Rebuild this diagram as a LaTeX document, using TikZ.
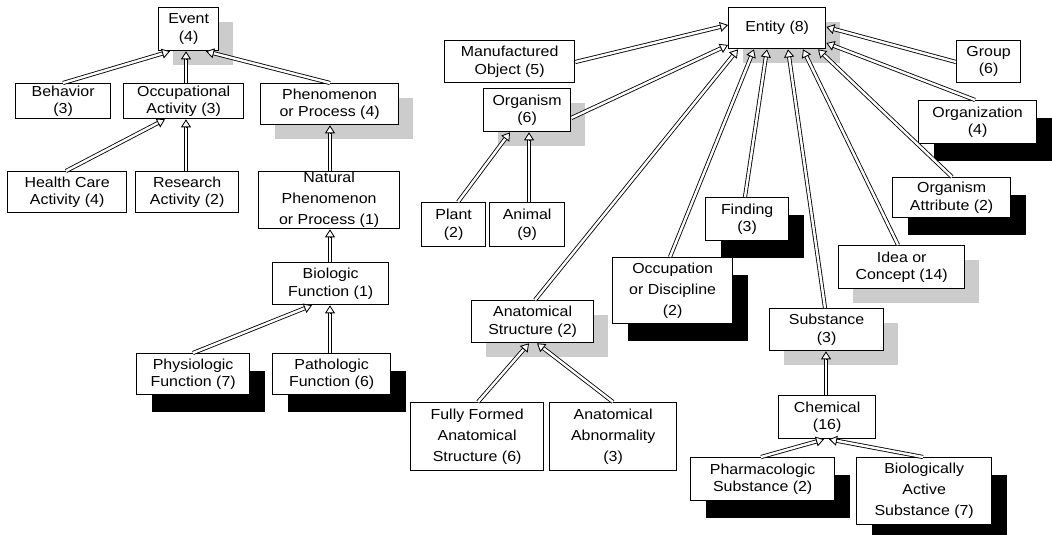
\documentclass[tikz,border=0pt]{standalone}
\usepackage{fontspec}
\setmainfont{Liberation Sans}[FakeStretch=1.1]
\usetikzlibrary{calc,shadows,arrows.meta}

% is-a link: hollow double shaft with an open triangular head
\newcommand\isa[2]{%
  \coordinate (isaS) at (#1);
  \coordinate (isaT) at (#2);
  \draw[isashaft] (isaS) -- ($(isaT)!7pt!(isaS)$);
  \draw[isahead] ($(isaT)!8pt!(isaS)$) -- (isaT);
}

\begin{document}
\begin{tikzpicture}[x=1pt,y=-1pt,
  box/.style={draw, line width=1.3pt, fill=white, inner sep=0pt, align=center,
    anchor=north west, font=\fontsize{14.5}{17.5}\selectfont},
  tall/.style={font=\fontsize{14.5}{21}\selectfont},
  bshadow/.style={general shadow={fill=black, shadow xshift=15pt, shadow yshift=-17pt}},
  gshadow/.style={general shadow={fill=gray!40, shadow xshift=14pt, shadow yshift=-14pt}},
  isashaft/.style={double, double distance=2.4pt, line width=0.85pt},
  isahead/.style={line width=0.85pt, -{Triangle[length=8pt,width=10pt,fill=white]}}]

\fill[white] (0,0) rectangle (1052,535);
\useasboundingbox (0,0) rectangle (1052,535);

% ---- Event hierarchy ----
\node[box, gshadow, minimum width=60, minimum height=43] (evt) at (158,7) {Event\\(4)};
\node[box, minimum width=95, minimum height=35] (beh) at (15,83) {Behavior\\(3)};
\node[box, minimum width=120, minimum height=35] (occ) at (123,83) {Occupational\\Activity (3)};
\node[box, gshadow, minimum width=138, minimum height=41] (phe) at (260,83) {Phenomenon\\or Process (4)};
\node[box, minimum width=119, minimum height=41] (hca) at (7,171) {Health Care\\Activity (4)};
\node[box, minimum width=103, minimum height=41] (res) at (135,171) {Research\\Activity (2)};
\node[box, tall, minimum width=141, minimum height=57] (nat) at (258,171) {Natural\\Phenomenon\\or Process (1)};
\node[box, minimum width=116, minimum height=42] (bio) at (272,262) {Biologic\\Function (1)};
\node[box, bshadow, minimum width=113, minimum height=41] (phy) at (136,353) {Physiologic\\Function (7)};
\node[box, bshadow, minimum width=118, minimum height=41] (pat) at (272,353) {Pathologic\\Function (6)};

% ---- Entity hierarchy ----
\node[box, gshadow, minimum width=97, minimum height=41] (ent) at (728,7) {Entity (8)};
\node[box, minimum width=130, minimum height=42] (man) at (444,40) {Manufactured\\Object (5)};
\node[box, minimum width=64, minimum height=42] (grp) at (956,40) {Group\\(6)};
\node[box, bshadow, minimum width=118, minimum height=43] (org) at (918,100) {Organization\\(4)};
\node[box, gshadow, minimum width=87, minimum height=43] (orm) at (483,88) {Organism\\(6)};
\node[box, minimum width=64, minimum height=44] (pla) at (421,202) {Plant\\(2)};
\node[box, minimum width=75, minimum height=44] (ani) at (489,202) {Animal\\(9)};
\node[box, bshadow, minimum width=83, minimum height=43] (fnd) at (705,197) {Finding\\(3)};
\node[box, bshadow, minimum width=118, minimum height=40] (oat) at (892,177) {Organism\\Attribute (2)};
\node[box, gshadow, minimum width=126, minimum height=43] (ide) at (838,245) {Idea or\\Concept (14)};
\node[box, bshadow, tall, minimum width=120, minimum height=66] (ocd) at (612,257) {Occupation\\or Discipline\\(2)};
\node[box, gshadow, minimum width=122, minimum height=42] (ana) at (471,300) {Anatomical\\Structure (2)};
\node[box, gshadow, minimum width=114, minimum height=42] (sub) at (769,308) {Substance\\(3)};
\node[box, tall, minimum width=133, minimum height=68] (ffa) at (410,402) {Fully Formed\\Anatomical\\Structure (6)};
\node[box, tall, minimum width=127, minimum height=68] (abn) at (549,402) {Anatomical\\Abnormality\\(3)};
\node[box, minimum width=97, minimum height=43] (che) at (778,395) {Chemical\\(16)};
\node[box, bshadow, minimum width=144, minimum height=43] (pha) at (690,457) {Pharmacologic\\Substance (2)};
\node[box, bshadow, tall, minimum width=135, minimum height=67] (bas) at (856,457) {Biologically\\Active\\Substance (7)};

% ---- links, Event side ----
\isa{beh.north -| 63,0}{evt.south -| 170,0}
\isa{occ.north -| 186,0}{evt.south -| 186,0}
\isa{phe.north -| 330,0}{evt.south -| 206,0}
\isa{hca.north -| 66,0}{occ.south -| 165,0}
\isa{res.north -| 186,0}{occ.south -| 186,0}
\isa{nat.north -| 330,0}{phe.south -| 330,0}
\isa{bio.north -| 330,0}{nat.south -| 330,0}
\isa{phy.north -| 193,0}{bio.south -| 312,0}
\isa{pat.north -| 330,0}{bio.south -| 330,0}

% ---- links, Entity side ----
\isa{man.east |- 0,62}{ent.west |- 0,25}
\isa{grp.west |- 0,62}{ent.east |- 0,27}
\isa{org.north -| 975,0}{ent.east |- 0,43}
\isa{orm.east |- 0,118}{ent.west |- 0,45}
\isa{ana.north -| 535,0}{ent.south -| 738,0}
\isa{ocd.north -| 670,0}{ent.south -| 754,0}
\isa{fnd.north -| 745,0}{ent.south -| 767,0}
\isa{sub.north -| 825,0}{ent.south -| 788,0}
\isa{ide.north -| 898,0}{ent.south -| 803,0}
\isa{oat.north -| 952,0}{ent.south -| 818,0}
\isa{pla.north -| 458,0}{orm.south -| 510,0}
\isa{ani.north -| 529,0}{orm.south -| 529,0}
\isa{ffa.north -| 478,0}{ana.south -| 529,0}
\isa{abn.north -| 613,0}{ana.south -| 537,0}
\isa{che.north -| 826,0}{sub.south -| 826,0}
\isa{pha.north -| 761,0}{che.south -| 824,0}
\isa{bas.north -| 923,0}{che.south -| 829,0}

\end{tikzpicture}
\end{document}
